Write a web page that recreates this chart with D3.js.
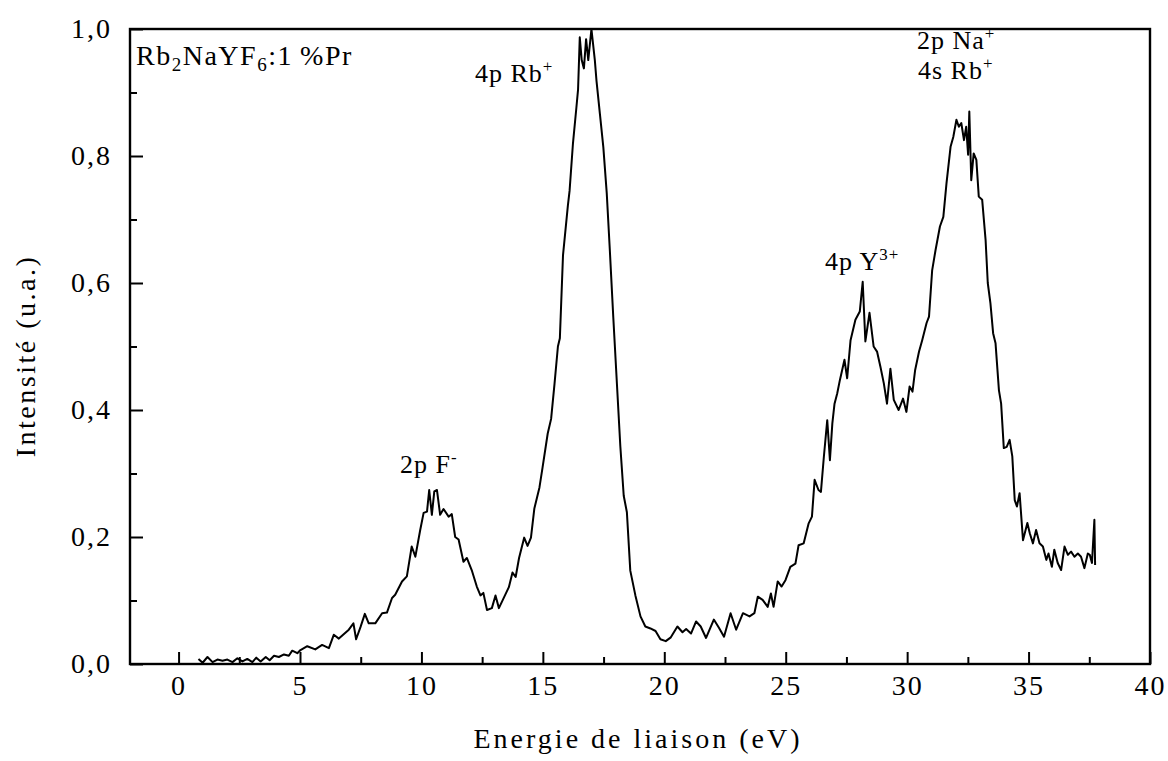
<!DOCTYPE html>
<html>
<head>
<meta charset="utf-8">
<script src="https://cdn.jsdelivr.net/npm/d3@7"></script>
<style>
  html, body { margin: 0; padding: 0; background: #fff; }
  svg { display: block; }
  text { font-family: "Liberation Serif", "Times New Roman", serif; fill: #000; }
</style>
</head>
<body>
<svg id="chart" width="1168" height="761"></svg>
<script>
// Binding energy (eV)
const energy = [
 0.82,0.99,1.19,1.40,1.60,1.81,2.01,2.22,2.42,2.63,2.83,3.04,3.20,3.38,3.59,3.75,3.93,4.13,4.34,4.54,
 4.68,4.89,5.02,5.30,5.63,5.91,6.19,6.39,6.60,7.01,7.20,7.31,7.49,7.67,7.83,8.10,8.38,8.58,8.79,8.92,
 9.20,9.40,9.60,9.75,9.95,10.09,10.23,10.32,10.43,10.53,10.64,10.77,10.91,11.12,11.25,11.39,11.53,11.73,11.87,12.07,
 12.28,12.43,12.55,12.70,12.90,13.05,13.19,13.40,13.60,13.75,13.88,14.02,14.23,14.37,14.51,14.65,14.86,14.99,15.20,15.34,
 15.48,15.62,15.70,15.83,16.03,16.10,16.24,16.38,16.45,16.52,16.60,16.69,16.78,16.87,17.00,17.14,17.21,17.35,17.49,17.63,
 17.76,17.90,18.05,18.19,18.33,18.46,18.60,18.81,19.02,19.22,19.43,19.64,19.84,20.06,20.27,20.54,20.75,20.90,21.10,21.31,
 21.50,21.72,22.04,22.25,22.46,22.73,22.96,23.24,23.51,23.71,23.85,24.05,24.26,24.39,24.50,24.67,24.83,24.99,25.19,25.40,
 25.53,25.74,25.94,26.08,26.19,26.35,26.45,26.57,26.71,26.82,26.92,27.01,27.12,27.23,27.42,27.53,27.67,27.87,28.05,28.17,
 28.28,28.45,28.62,28.76,28.90,29.04,29.17,29.31,29.45,29.65,29.83,29.97,30.10,30.22,30.33,30.49,30.62,30.80,30.90,31.03,
 31.17,31.35,31.49,31.62,31.79,31.90,32.03,32.13,32.23,32.34,32.43,32.51,32.56,32.64,32.74,32.85,32.95,33.09,33.23,33.32,
 33.43,33.54,33.64,33.78,33.87,33.98,34.10,34.22,34.33,34.43,34.52,34.63,34.77,34.95,35.05,35.18,35.31,35.45,35.59,35.73,
 35.82,35.96,36.06,36.20,36.34,36.48,36.62,36.75,36.89,37.03,37.16,37.30,37.44,37.52,37.61,37.71,37.74
];
// Intensity (u.a.)
const intensity = [
 0.008,0.002,0.011,0.003,0.007,0.005,0.007,0.003,0.009,0.004,0.008,0.003,0.010,0.004,0.011,0.006,0.013,0.011,0.015,0.013,
 0.021,0.017,0.022,0.028,0.023,0.030,0.025,0.046,0.040,0.054,0.064,0.039,0.058,0.079,0.064,0.064,0.080,0.081,0.104,0.109,
 0.130,0.138,0.185,0.169,0.211,0.238,0.240,0.274,0.235,0.272,0.274,0.235,0.244,0.232,0.236,0.200,0.196,0.161,0.167,0.148,
 0.122,0.108,0.112,0.085,0.088,0.108,0.088,0.105,0.121,0.144,0.137,0.167,0.199,0.186,0.199,0.245,0.278,0.310,0.363,0.386,
 0.441,0.500,0.513,0.644,0.722,0.745,0.820,0.876,0.905,0.987,0.951,0.938,0.984,0.951,1.000,0.951,0.918,0.866,0.814,0.742,
 0.650,0.546,0.441,0.343,0.265,0.239,0.147,0.108,0.075,0.059,0.056,0.052,0.039,0.036,0.042,0.059,0.050,0.055,0.048,0.067,
 0.059,0.041,0.070,0.057,0.043,0.080,0.054,0.080,0.075,0.080,0.106,0.101,0.090,0.111,0.090,0.130,0.122,0.132,0.153,0.158,
 0.187,0.190,0.221,0.232,0.290,0.274,0.271,0.326,0.384,0.321,0.379,0.410,0.426,0.447,0.479,0.450,0.510,0.542,0.555,0.602,
 0.508,0.553,0.500,0.492,0.468,0.442,0.410,0.465,0.416,0.400,0.418,0.397,0.437,0.429,0.463,0.492,0.510,0.537,0.547,0.620,
 0.652,0.689,0.704,0.757,0.815,0.830,0.857,0.846,0.852,0.825,0.846,0.802,0.870,0.762,0.804,0.794,0.736,0.731,0.668,0.600,
 0.568,0.521,0.505,0.431,0.410,0.340,0.342,0.353,0.327,0.258,0.248,0.269,0.195,0.222,0.206,0.190,0.211,0.190,0.185,0.164,
 0.174,0.153,0.180,0.159,0.148,0.185,0.172,0.177,0.169,0.174,0.169,0.151,0.174,0.172,0.159,0.227,0.156
];
const xMajorTicks = [0,5,10,15,20,25,30,35,40];
const xMinorTicks = [2.5,7.5,12.5,17.5,22.5,27.5,32.5,37.5];
const yMajorTicks = [0,0.2,0.4,0.6,0.8,1.0];
const yMinorTicks = [0.1,0.3,0.5,0.7,0.9];
const xTitle = "Energie de liaison (eV)";
const yTitle = "Intensité (u.a.)";

const svg = d3.select("#chart");
const L = 130, R = 1150, T = 29, B = 664;
const x = d3.scaleLinear().domain([-2, 40]).range([L, R]);
const y = d3.scaleLinear().domain([0, 1]).range([B, T]);
const fmt = d => d.toFixed(1).replace(".", ",");

// axes
const gx = svg.append("g").attr("transform", `translate(0,${B})`)
  .call(d3.axisBottom(x).tickValues(xMajorTicks).tickSize(-12).tickPadding(14).tickFormat(d3.format("d")));
const gxm = svg.append("g").attr("transform", `translate(0,${B})`)
  .call(d3.axisBottom(x).tickValues(xMinorTicks).tickSize(-7).tickFormat(""));
const gy = svg.append("g").attr("transform", `translate(${L},0)`)
  .call(d3.axisLeft(y).tickValues(yMajorTicks).tickSize(-13).tickPadding(18).tickFormat(fmt));
const gym = svg.append("g").attr("transform", `translate(${L},0)`)
  .call(d3.axisLeft(y).tickValues(yMinorTicks).tickSize(-7).tickFormat(""));
[gx, gxm, gy, gym].forEach(g => {
  g.select(".domain").remove();
  g.selectAll(".tick line").attr("stroke", "#000").attr("stroke-width", 2);
  g.selectAll(".tick text").attr("font-family", "Liberation Serif").attr("font-size", 28)
    .attr("letter-spacing", 2).attr("fill", "#000");
});
gx.selectAll(".tick text").attr("dy", "0.62em");

// frame
svg.append("rect").attr("x", L).attr("y", T).attr("width", R - L).attr("height", B - T)
  .attr("fill", "none").attr("stroke", "#000").attr("stroke-width", 2.4);

// curve
const pts = energy.map((e, i) => [e, intensity[i]]);
svg.append("path").datum(pts)
  .attr("fill", "none").attr("stroke", "#000").attr("stroke-width", 2).attr("stroke-linejoin", "round")
  .attr("d", d3.line().x(d => x(d[0])).y(d => y(d[1])));

// axis titles
svg.append("text").attr("x", 638).attr("y", 748).attr("text-anchor", "middle")
  .attr("font-size", 28).attr("letter-spacing", 3).text(xTitle);
svg.append("text").attr("transform", `translate(35,356) rotate(-90)`).attr("text-anchor", "middle")
  .attr("font-size", 28).attr("letter-spacing", 2.5).text(yTitle);

// annotations
function label(xp, yp, parts, size, ls) {
  const t = svg.append("text").attr("x", xp).attr("y", yp).attr("font-size", size).attr("letter-spacing", ls);
  parts.forEach(p => {
    const s = t.append("tspan").text(p[0]);
    if (p[1] === "sub") s.attr("font-size", size * 0.68).attr("dy", 6);
    else if (p[1] === "sup") s.attr("font-size", size * 0.65).attr("dy", -10);
    else if (p[1] === "back") s.attr("dy", p[2]);
  });
  return t;
}
label(136, 65, [["Rb"], ["2", "sub"], ["NaYF", "back", -6], ["6", "sub"], [":1\u2009%Pr", "back", -6]], 28, 1.5);
label(475, 82, [["4p Rb"], ["+", "sup"]], 26, 1);
label(917, 49, [["2p Na"], ["+", "sup"]], 26, 1);
label(918, 79, [["4s Rb"], ["+", "sup"]], 26, 1);
label(825, 270, [["4p Y"], ["3+", "sup"]], 26, 1);
label(400, 473, [["2p F"], ["-", "sup"]], 26, 1);
</script>
</body>
</html>
